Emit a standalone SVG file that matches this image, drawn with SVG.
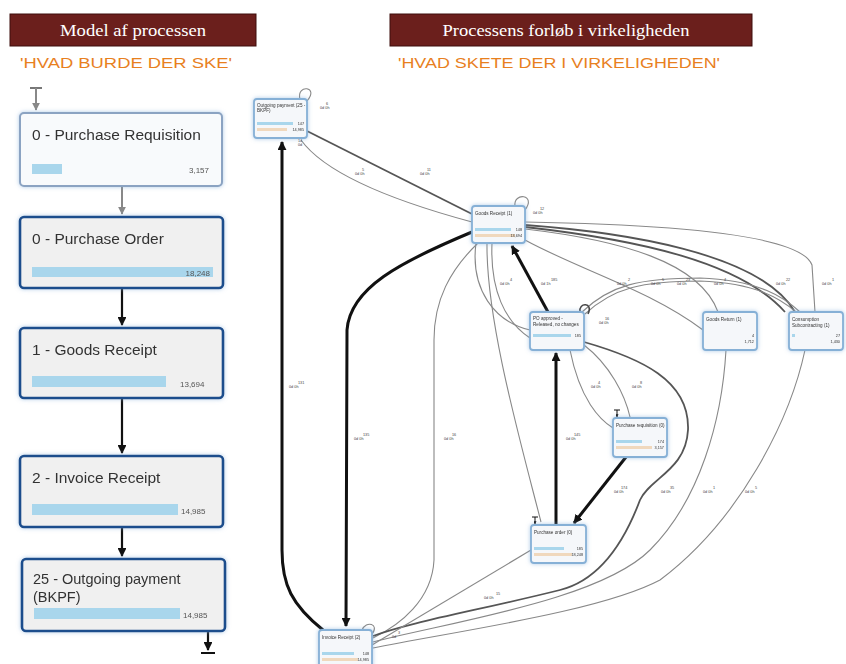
<svg xmlns="http://www.w3.org/2000/svg" width="846" height="664" viewBox="0 0 846 664">
<defs>
<style>
.hdr{fill:#6b1f1c;stroke:#3e0f0d;stroke-width:1}
.hdrt{font-family:"Liberation Serif",serif;fill:#fff;font-size:17px}
.sub{font-family:"Liberation Sans",sans-serif;fill:#e8801e;font-size:15px}
.lt{font-family:"Liberation Sans",sans-serif;fill:#333;font-size:15.5px}
.lt2{font-family:"Liberation Sans",sans-serif;fill:#333;font-size:14.5px}
.ln{font-family:"Liberation Sans",sans-serif;fill:#555;font-size:8px}
.bar{fill:#a9d6ec}
.beige{fill:#f0d8bd}
.n1{fill:#f8fafc;stroke:#8ba3c2;stroke-width:2}
.n2{fill:#f0f0f0;stroke:#1f4e8c;stroke-width:2.6}
.sn{fill:#f5f7fa;stroke:#86b0d6;stroke-width:1.8}
.st{font-family:"Liberation Sans",sans-serif;fill:#333;font-size:4.6px}
.sv{font-family:"Liberation Sans",sans-serif;fill:#333;font-size:3.8px}
.el{font-family:"Liberation Sans",sans-serif;fill:#444;font-size:3.8px}
.thick{fill:none;stroke:#111;stroke-width:3}
.mid{fill:none;stroke:#555;stroke-width:1.8}
.thin{fill:none;stroke:#888;stroke-width:1.1}
.la{fill:none;stroke:#111;stroke-width:2.2}
.lg{fill:none;stroke:#888;stroke-width:2}
</style>
<filter id="glow" x="-20%" y="-20%" width="140%" height="140%"><feDropShadow dx="0" dy="0" stdDeviation="2" flood-color="#7aa8d6" flood-opacity="0.6"/></filter>
<marker id="ab" viewBox="0 0 10 10" refX="9" refY="5" markerWidth="4" markerHeight="4" orient="auto"><path d="M0,0 L10,5 L0,10 z" fill="#111"/></marker>
<marker id="ag" viewBox="0 0 10 10" refX="9" refY="5" markerWidth="4" markerHeight="4" orient="auto"><path d="M0,0 L10,5 L0,10 z" fill="#888"/></marker>
<marker id="as" viewBox="0 0 10 10" refX="9" refY="5" markerWidth="3" markerHeight="3" orient="auto"><path d="M0,0 L10,5 L0,10 z" fill="#111"/></marker>
</defs>
<rect width="846" height="664" fill="#fff"/>

<g id="header-left">
<rect class="hdr" x="10" y="14" width="246" height="32"/>
<text class="hdrt" x="133" y="36" text-anchor="middle" textLength="146" lengthAdjust="spacingAndGlyphs">Model af processen</text>
<text class="sub" x="20" y="68" textLength="212" lengthAdjust="spacingAndGlyphs">'HVAD BURDE DER SKE'</text>
</g>
<g id="header-right">
<rect class="hdr" x="390" y="14" width="362" height="32"/>
<text class="hdrt" x="566" y="36" text-anchor="middle" textLength="247" lengthAdjust="spacingAndGlyphs">Processens forløb i virkeligheden</text>
<text class="sub" x="398" y="68" textLength="322" lengthAdjust="spacingAndGlyphs">'HVAD SKETE DER I VIRKELIGHEDEN'</text>
</g>

<g id="left-connectors">
<line x1="30" y1="88" x2="42" y2="88" stroke="#777" stroke-width="2"/>
<line class="lg" x1="36" y1="88" x2="36" y2="110" marker-end="url(#ag)"/>
<line class="lg" x1="122" y1="187" x2="122" y2="214" marker-end="url(#ag)"/>
<line class="la" x1="122" y1="289" x2="122" y2="325" marker-end="url(#ab)"/>
<line class="la" x1="122" y1="399" x2="122" y2="453" marker-end="url(#ab)"/>
<line class="la" x1="122" y1="528" x2="122" y2="556" marker-end="url(#ab)"/>
<line class="la" x1="208" y1="632" x2="208" y2="650" marker-end="url(#ab)"/>
<line x1="201" y1="653" x2="215" y2="653" stroke="#111" stroke-width="2"/>
</g>

<g id="l-pr" filter="url(#glow)">
<rect class="n1" x="20" y="113" width="202" height="73" rx="4"/>
<text class="lt" x="32" y="140">0 - Purchase Requisition</text>
<rect class="bar" x="32" y="164" width="30" height="10"/>
<text class="ln" x="209" y="173" text-anchor="end">3,157</text>
</g>
<g id="l-po" filter="url(#glow)">
<rect class="n2" x="20" y="217" width="203" height="71" rx="4"/>
<text class="lt" x="32" y="244">0 - Purchase Order</text>
<rect class="bar" x="32" y="267" width="181" height="10"/>
<text class="ln" x="210" y="276" text-anchor="end">18,248</text>
</g>
<g id="l-gr" filter="url(#glow)">
<rect class="n2" x="20" y="328" width="203" height="70" rx="4"/>
<text class="lt" x="32" y="355">1 - Goods Receipt</text>
<rect class="bar" x="32" y="376" width="134" height="11"/>
<text class="ln" x="180" y="387">13,694</text>
</g>
<g id="l-ir" filter="url(#glow)">
<rect class="n2" x="20" y="456" width="203" height="71" rx="4"/>
<text class="lt" x="32" y="483">2 - Invoice Receipt</text>
<rect class="bar" x="32" y="504" width="146" height="11"/>
<text class="ln" x="181" y="514">14,985</text>
</g>
<g id="l-op" filter="url(#glow)">
<rect class="n2" x="22" y="559" width="203" height="72" rx="4"/>
<text class="lt2" x="33" y="584">25 - Outgoing payment</text>
<text class="lt2" x="33" y="602">(BKPF)</text>
<rect class="bar" x="34" y="608" width="146" height="11"/>
<text class="ln" x="183" y="618">14,985</text>
</g>

<g id="graph-connectors">
<path class="thick" d="M323,630 C292,605 282,585 282,550 L282,142" marker-end="url(#as)"/>
<path class="thick" d="M472,232 C400,262 350,288 347,330 L346,626" marker-end="url(#as)"/>
<path class="thick" d="M548,312 L512,246" marker-end="url(#as)"/>
<path class="thick" d="M556,525 L556,353" marker-end="url(#as)"/>
<path class="thick" d="M626,457 L574,523" marker-end="url(#as)"/>
<path class="mid" d="M307,131 L472,214"/>
<path class="thin" d="M301,140 C330,180 420,208 472,222"/>
<path class="thin" d="M478,243 C450,270 434,300 434,340 L434,560 C432,600 400,625 373,638"/>
<path class="thin" d="M487,243 C486,320 520,440 541,522"/>
<path class="thin" d="M492,243 C490,290 505,322 530,338"/>
<path class="thin" d="M476,243 C470,290 495,322 530,330"/>
<path class="thin" d="M525,240 C580,270 650,290 703,330"/>
<path class="mid" d="M525,225 C620,232 760,252 795,312"/>
<path class="thin" d="M525,222 C650,224 800,232 812,265 L815,312"/>
<path class="thin" d="M525,229 C620,240 700,262 718,312"/>
<path class="mid" d="M525,227 C640,240 740,262 785,312"/>
<path class="thin" d="M582,312 C610,285 640,278 700,278 C760,280 785,298 800,312"/>
<path class="thin" d="M585,314 C613,288 642,281 700,281 C758,283 782,300 796,312"/>
<path class="thin" d="M570,350 C580,400 600,420 613,428"/>
<path class="thin" d="M584,345 C610,365 625,395 630,417"/>
<path class="mid" d="M584,342 C640,358 690,380 688,430 C686,470 650,478 640,500 C625,540 600,580 560,590 C480,610 410,622 373,636"/>
<path class="thin" d="M726,350 C722,420 700,500 650,550 C600,600 450,622 373,642"/>
<path class="thin" d="M805,350 C790,420 740,520 660,580 C600,612 450,632 373,648"/>
<path class="thin" d="M531,550 L372,645"/>
<path class="thin" d="M300,99 C296,84 320,86 307,101"/>
<path class="thin" d="M515,206 C513,192 537,194 525,210"/>
<path fill="none" stroke="#444" stroke-width="1.5" d="M580,312 C578,302 594,302 588,314"/>
<path class="thin" d="M362,630 C366,620 380,624 372,634"/>
<line x1="614" y1="410" x2="620" y2="410" stroke="#111" stroke-width="1"/>
<line x1="617" y1="410" x2="617" y2="417" stroke="#111" stroke-width="1" marker-end="url(#as)"/>
<line x1="532" y1="517" x2="538" y2="517" stroke="#111" stroke-width="1"/>
<line x1="535" y1="517" x2="535" y2="524" stroke="#111" stroke-width="1" marker-end="url(#as)"/>
</g>

<g id="edge-labels">
<text class="el" x="320" y="105"><tspan x="326">6</tspan><tspan x="320" dy="4">0d 0h</tspan></text>
<text class="el" x="298" y="142"><tspan x="298">14</tspan><tspan x="298" dy="4">0d</tspan></text>
<text class="el" x="355" y="171"><tspan x="362">5</tspan><tspan x="355" dy="4">0d 0h</tspan></text>
<text class="el" x="420" y="171"><tspan x="427">11</tspan><tspan x="420" dy="4">0d 0h</tspan></text>
<text class="el" x="533" y="210"><tspan x="540">12</tspan><tspan x="533" dy="4">0d 0h</tspan></text>
<text class="el" x="500" y="281"><tspan x="510">4</tspan><tspan x="500" dy="4">0d 0h</tspan></text>
<text class="el" x="541" y="281"><tspan x="551">185</tspan><tspan x="541" dy="4">0d 1h</tspan></text>
<text class="el" x="617" y="281"><tspan x="628">2</tspan><tspan x="617" dy="4">0d 0h</tspan></text>
<text class="el" x="651" y="281"><tspan x="662">5</tspan><tspan x="651" dy="4">0d 0h</tspan></text>
<text class="el" x="677" y="281"><tspan x="686">23</tspan><tspan x="677" dy="4">0d 0h</tspan></text>
<text class="el" x="714" y="281"><tspan x="724">4</tspan><tspan x="714" dy="4">0d 0h</tspan></text>
<text class="el" x="776" y="281"><tspan x="786">22</tspan><tspan x="776" dy="4">0d 0h</tspan></text>
<text class="el" x="822" y="281"><tspan x="832">1</tspan><tspan x="822" dy="4">0d 0h</tspan></text>
<text class="el" x="599" y="320"><tspan x="605">16</tspan><tspan x="599" dy="4">0d 0h</tspan></text>
<text class="el" x="591" y="384"><tspan x="598">4</tspan><tspan x="591" dy="4">0d 0h</tspan></text>
<text class="el" x="632" y="384"><tspan x="640">8</tspan><tspan x="632" dy="4">0d 0h</tspan></text>
<text class="el" x="289" y="384"><tspan x="298">131</tspan><tspan x="289" dy="4">0d 0h</tspan></text>
<text class="el" x="354" y="436"><tspan x="363">135</tspan><tspan x="354" dy="4">0d 0h</tspan></text>
<text class="el" x="444" y="436"><tspan x="452">16</tspan><tspan x="444" dy="4">0d 0h</tspan></text>
<text class="el" x="566" y="436"><tspan x="574">145</tspan><tspan x="566" dy="4">0d 0h</tspan></text>
<text class="el" x="614" y="489"><tspan x="621">174</tspan><tspan x="614" dy="4">0d 0h</tspan></text>
<text class="el" x="661" y="489"><tspan x="670">35</tspan><tspan x="661" dy="4">0d 0h</tspan></text>
<text class="el" x="703" y="489"><tspan x="713">1</tspan><tspan x="703" dy="4">0d 0h</tspan></text>
<text class="el" x="745" y="489"><tspan x="755">5</tspan><tspan x="745" dy="4">0d 0h</tspan></text>
<text class="el" x="484" y="595"><tspan x="496">15</tspan><tspan x="484" dy="4">0d 0h</tspan></text>
<text class="el" x="392" y="634"><tspan x="398">3</tspan><tspan x="392" dy="4">0d</tspan></text>
</g>

<g id="n-outgoing" filter="url(#glow)">
<rect class="sn" x="254" y="99" width="53" height="39" rx="3"/>
<text class="st" x="257" y="107">Outgoing payment (25 -</text>
<text class="st" x="257" y="112">BKPF)</text>
<rect class="bar" x="257" y="122" width="36" height="3"/>
<rect class="beige" x="257" y="128" width="30" height="3"/>
<text class="sv" x="304" y="125" text-anchor="end">147</text>
<text class="sv" x="304" y="131" text-anchor="end">14,985</text>
</g>
<g id="n-goods-receipt" filter="url(#glow)">
<rect class="sn" x="472" y="206" width="53" height="37" rx="3"/>
<text class="st" x="475" y="215">Goods Receipt (1)</text>
<rect class="bar" x="475" y="228" width="36" height="3"/>
<rect class="beige" x="475" y="234" width="40" height="3"/>
<text class="sv" x="522" y="231" text-anchor="end">148</text>
<text class="sv" x="522" y="237" text-anchor="end">13,694</text>
</g>
<g id="n-po-approved" filter="url(#glow)">
<rect class="sn" x="530" y="312" width="54" height="38" rx="3"/>
<text class="st" x="533" y="320">PO approved -</text>
<text class="st" x="533" y="326">Released, no changes</text>
<rect class="bar" x="533" y="334" width="38" height="3"/>
<text class="sv" x="581" y="337" text-anchor="end">185</text>
</g>
<g id="n-goods-return" filter="url(#glow)">
<rect class="sn" x="703" y="312" width="54" height="38" rx="3"/>
<text class="st" x="706" y="321">Goods Return (1)</text>
<text class="sv" x="754" y="337" text-anchor="end">4</text>
<text class="sv" x="754" y="343" text-anchor="end">1,712</text>
</g>
<g id="n-consumption" filter="url(#glow)">
<rect class="sn" x="789" y="312" width="54" height="38" rx="3"/>
<text class="st" x="792" y="321">Consumption</text>
<text class="st" x="792" y="327">Subcontracting (1)</text>
<rect class="bar" x="792" y="334" width="3" height="3"/>
<text class="sv" x="840" y="337" text-anchor="end">27</text>
<text class="sv" x="840" y="343" text-anchor="end">1,430</text>
</g>
<g id="n-purchase-req" filter="url(#glow)">
<rect class="sn" x="613" y="418" width="54" height="39" rx="3"/>
<text class="st" x="616" y="427">Purchase requisition (0)</text>
<rect class="bar" x="616" y="440" width="26" height="3"/>
<rect class="beige" x="616" y="446" width="36" height="3"/>
<text class="sv" x="664" y="443" text-anchor="end">174</text>
<text class="sv" x="664" y="449" text-anchor="end">3,157</text>
</g>
<g id="n-purchase-order" filter="url(#glow)">
<rect class="sn" x="531" y="525" width="55" height="38" rx="3"/>
<text class="st" x="534" y="534">Purchase order (0)</text>
<rect class="bar" x="534" y="547" width="30" height="3"/>
<rect class="beige" x="534" y="553" width="38" height="3"/>
<text class="sv" x="583" y="550" text-anchor="end">185</text>
<text class="sv" x="583" y="556" text-anchor="end">18,248</text>
</g>
<g id="n-invoice" filter="url(#glow)">
<rect class="sn" x="319" y="630" width="53" height="40" rx="3"/>
<text class="st" x="322" y="639">Invoice Receipt (2)</text>
<rect class="bar" x="322" y="652" width="32" height="3"/>
<rect class="beige" x="322" y="658" width="36" height="3"/>
<text class="sv" x="369" y="655" text-anchor="end">148</text>
<text class="sv" x="369" y="661" text-anchor="end">14,985</text>
</g>
</svg>
